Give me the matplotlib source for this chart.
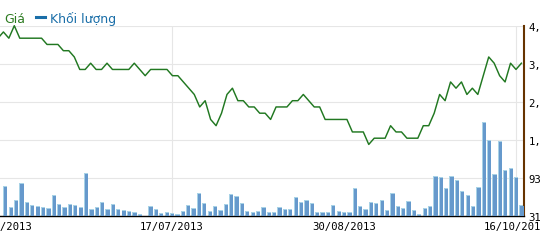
import matplotlib
matplotlib.use("Agg")
import matplotlib.pyplot as plt
from matplotlib.lines import Line2D
import numpy as np
import pandas as pd

# ---------------- data ----------------
# trading calendar (HOSE), first day only used for the first axis label
calendar = pd.bdate_range("2013-06-03", "2013-10-17", freq="C", holidays=["2013-09-02"])
dates = calendar[1:]  # 04/06/2013 .. 17/10/2013 (97 sessions)

price = [9.8, 9.9, 9.8, 10.0, 9.8, 9.8, 9.8, 9.8, 9.8, 9.7,
         9.7, 9.7, 9.6, 9.6, 9.5, 9.3, 9.3, 9.4, 9.3, 9.3,
         9.4, 9.3, 9.3, 9.3, 9.3, 9.4, 9.3, 9.2, 9.3, 9.3,
         9.3, 9.3, 9.2, 9.2, 9.1, 9.0, 8.9, 8.7, 8.8, 8.5,
         8.4, 8.6, 8.9, 9.0, 8.8, 8.8, 8.7, 8.7, 8.6, 8.6,
         8.5, 8.7, 8.7, 8.7, 8.8, 8.8, 8.9, 8.8, 8.7, 8.7,
         8.5, 8.5, 8.5, 8.5, 8.5, 8.3, 8.3, 8.3, 8.1, 8.2,
         8.2, 8.2, 8.4, 8.3, 8.3, 8.2, 8.2, 8.2, 8.4, 8.4,
         8.6, 8.9, 8.8, 9.1, 9.0, 9.1, 8.9, 9.0, 8.9, 9.2,
         9.5, 9.4, 9.2, 9.1, 9.4, 9.3, 9.4]

volume_k = [746, 247, 406, 810, 359, 280, 257, 240, 224, 518,
            304, 233, 318, 295, 247, 1055, 200, 240, 366, 186,
            311, 186, 162, 145, 121, 81, 25, 271, 192, 97,
            128, 97, 74, 152, 280, 224, 580, 342, 152, 264,
            176, 304, 549, 501, 342, 145, 114, 145, 240, 114,
            114, 233, 192, 186, 478, 366, 399, 335, 128, 128,
            128, 295, 138, 114, 121, 698, 257, 192, 359, 342,
            406, 169, 572, 264, 216, 390, 169, 74, 209, 264,
            976, 960, 698, 976, 888, 613, 518, 257, 708, 2266,
            1824, 1024, 1800, 1111, 1166, 960, 287]

vol_ticks = [31400, 931400, 1831400, 2731400, 3631400, 4531400]
tick_dates = ["03/06/2013", "17/07/2013", "30/08/2013", "16/10/2013"]
grid_dates = ["17/07/2013", "16/10/2013"]

legend_price = "Giá"
legend_volume = "Khối lượng"

# ---------------- helpers ----------------
def pos(dstr):
    d = pd.to_datetime(dstr, format="%d/%m/%Y")
    return calendar.get_loc(d) - 1

x = np.arange(len(dates))
volume = np.array(volume_k) * 1000.0

W, H = 540, 253
fig = plt.figure(figsize=(W / 100, H / 100), dpi=100)
ax_bottom_px, ax_top_px, ax_right_px = 216.8, 27.3, 524.3
rect = [0, (H - ax_bottom_px) / H, ax_right_px / W, (ax_bottom_px - ax_top_px) / H]
ax = fig.add_axes(rect)

step_px = 5.453
x_left = 2.05 / step_px
x_right = x_left + ax_right_px / step_px
ax.set_xlim(x_left, x_right)
ax.set_ylim(vol_ticks[0], vol_ticks[-1])

# volume bars: light body with darker main part (left/top highlight)
px_vol = (vol_ticks[-1] - vol_ticks[0]) / (ax_bottom_px - ax_top_px)
ax.bar(x, volume, width=0.79, color="#a8d2e6", zorder=2, linewidth=0)
ax.bar(x - 0.395 + 0.18, volume - px_vol * 0.9, width=0.61, align="edge",
       color="#6699cc", zorder=3, linewidth=0)

# grid
ax.set_yticks(vol_ticks)
ax.grid(axis="y", color="#e6e6e6", linewidth=0.8, zorder=0)
ax.set_axisbelow(True)
for gd in grid_dates:
    ax.axvline(pos(gd), color="#e6e6e6", linewidth=0.8, zorder=0)

# spines
ax.spines["top"].set_visible(False)
ax.spines["left"].set_visible(False)
ax.spines["right"].set_color("#663300")
ax.spines["right"].set_linewidth(1.5)
ax.spines["bottom"].set_color("#000000")
ax.spines["bottom"].set_linewidth(1.0)

# ticks
mono = "DejaVu Sans Mono"
ax.yaxis.tick_right()
ax.set_yticklabels([f"{v:,}" for v in vol_ticks], fontfamily=mono, fontsize=7.7)
ax.set_xticks([pos(d) for d in tick_dates])
ax.set_xticklabels(tick_dates, fontfamily=mono, fontsize=7.7)
ax.tick_params(axis="x", length=0, pad=4)
ax.tick_params(axis="y", length=0, pad=3)

# price line on a separate, invisible axis
axp = fig.add_axes(rect, facecolor="none")
axp.set_xlim(x_left, x_right)
axp.set_ylim(10.0 - 190.1 / 62.5, 10.0 - 0.6 / 62.5)
axp.plot(x, price, color="#217821", linewidth=1.05, clip_on=False, zorder=5)
axp.axis("off")

# legend
base_y = (H - 22.7) / H
fig.text(4 / W, base_y, legend_price, color="#2b7a1f", fontsize=9, va="baseline")
fig.add_artist(Line2D([36 / W, 45 / W], [(H - 17.7) / H] * 2, transform=fig.transFigure,
                      color="#1a6ea8", linewidth=2.2))
fig.text(50 / W, base_y, legend_volume, color="#1a6ea8", fontsize=9, va="baseline")

fig.savefig("out.png", dpi=100)
